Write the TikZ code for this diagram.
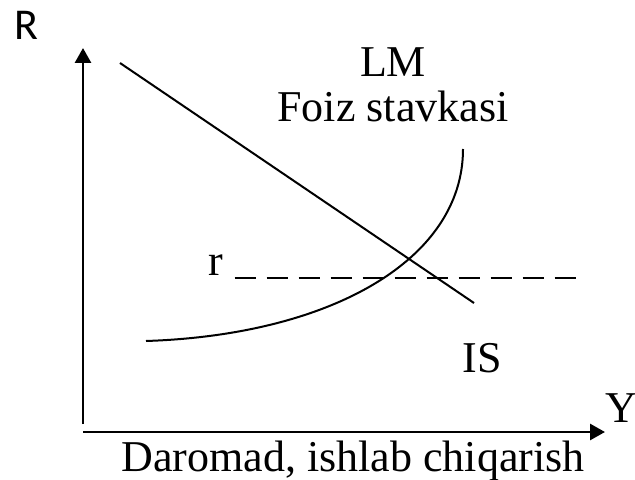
\documentclass[tikz,border=0pt]{standalone}
\usepackage{fontspec}
\setmainfont{Liberation Serif}
\newfontfamily\axisfont{Carlito}
\usepackage{tikz}
\usetikzlibrary{arrows.meta,positioning,calc}

\begin{document}
\begin{tikzpicture}[
x=0.5pt,y=-0.5pt,
axis/.style={-{Triangle[length=7.5pt,width=8pt]},line width=1.4pt},
curve/.style={line width=1pt},
level/.style={line width=1pt,dash pattern=on 10.5pt off 5.5pt},
lbl/.style={inner sep=0pt,anchor=base,font=\fontsize{22}{26}\selectfont},
axlbl/.style={inner sep=0pt,anchor=base,font=\axisfont\fontsize{22}{26}\selectfont}
]
\useasboundingbox (0,0) rectangle (635,480);
% axes
\coordinate (vbot) at (83,424);
\coordinate (ytop) at (83,48);
\coordinate (origin) at (83,432);
\coordinate (xend) at (605,432);
\draw[axis] (vbot)--(ytop);
\draw[axis] (origin)--(xend);
\node[axlbl] (rlab) at (26,40) {R};
\node[lbl] (ylab) at (621,422) {Y};
\node[lbl] (xlab) at (353,471) {Daromad, ishlab chiqarish};
% curves
\coordinate (isstart) at (120,63);
\coordinate (isend) at (474,303);
\draw[curve] (isstart)--(isend);
\coordinate (lmstart) at (146,341);
\coordinate (lmend) at (463,149);
\draw[curve] (lmstart) .. controls (330,335) and (463,260) .. (lmend);
\node[lbl] (lmlab) at (393,77) {LM};
\node[lbl] (foiz) at (393,122) {Foiz stavkasi};
\node[lbl] (islab) at (482,372) {IS};
% interest rate
\node[lbl] (rlevel) at (216,275) {r};
\coordinate (rend) at (578,278);
\draw[level] ($(rlevel.base east)+(11,3)$)--(rend);
\end{tikzpicture}
\end{document}
